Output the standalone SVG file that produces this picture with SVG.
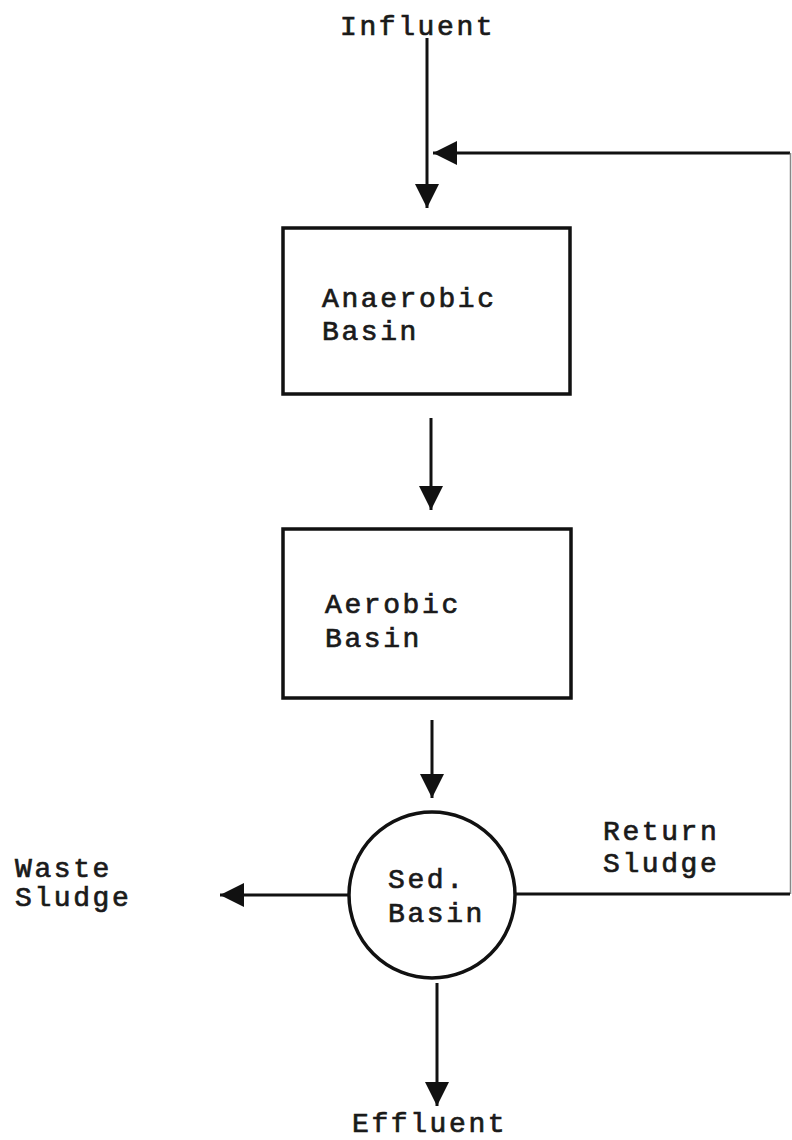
<svg xmlns="http://www.w3.org/2000/svg" width="792" height="1140" viewBox="0 0 792 1140">
<defs>
<style>
.t{font-family:"Liberation Mono","Courier New",monospace;font-size:28px;letter-spacing:2.6px;fill:#1a1a1a;stroke:#1a1a1a;stroke-width:0.7px}
.box{fill:none;stroke:#111;stroke-width:3.5}
.ln{fill:none;stroke:#111;stroke-width:3}
</style>
<marker id="ah" markerWidth="8" markerHeight="8" refX="7" refY="3.5" orient="auto" markerUnits="strokeWidth" viewBox="0 0 7 7">
<path d="M0,0 L7,3.5 L0,7 Z" fill="#111"/>
</marker>
</defs>
<rect width="792" height="1140" fill="#fff"/>
<g id="influent"><text class="t" x="340" y="35">Influent</text></g>
<g id="anaerobic">
<rect class="box" x="283" y="228" width="287" height="166"/>
<text class="t" x="322" y="307">Anaerobic</text>
<text class="t" x="322" y="340">Basin</text>
</g>
<g id="aerobic">
<rect class="box" x="283" y="529" width="288" height="169"/>
<text class="t" x="325" y="613">Aerobic</text>
<text class="t" x="325" y="647">Basin</text>
</g>
<g id="sed">
<circle class="box" cx="432" cy="895" r="83" stroke-width="3"/>
<text class="t" x="388" y="888">Sed.</text>
<text class="t" x="388" y="922">Basin</text>
</g>
<g id="waste"><text class="t" x="15" y="877">Waste</text><text class="t" x="15" y="906">Sludge</text></g>
<g id="return"><text class="t" x="603" y="840">Return</text><text class="t" x="603" y="872">Sludge</text></g>
<g id="effluent"><text class="t" x="352" y="1132">Effluent</text></g>
<g id="connectors">
<path class="ln" d="M427,38 V208" marker-end="url(#ah)"/>
<path class="ln" d="M790,153 H433" marker-end="url(#ah)"/>
<path d="M790.5,153 V894" fill="none" stroke="#888" stroke-width="1.5"/>
<path class="ln" d="M790,894 H515"/>
<path class="ln" d="M431,418 V510" marker-end="url(#ah)"/>
<path class="ln" d="M432,720 V798" marker-end="url(#ah)"/>
<path class="ln" d="M349,895 H220" marker-end="url(#ah)"/>
<path class="ln" d="M437,983 V1106" marker-end="url(#ah)"/>
</g>
</svg>
